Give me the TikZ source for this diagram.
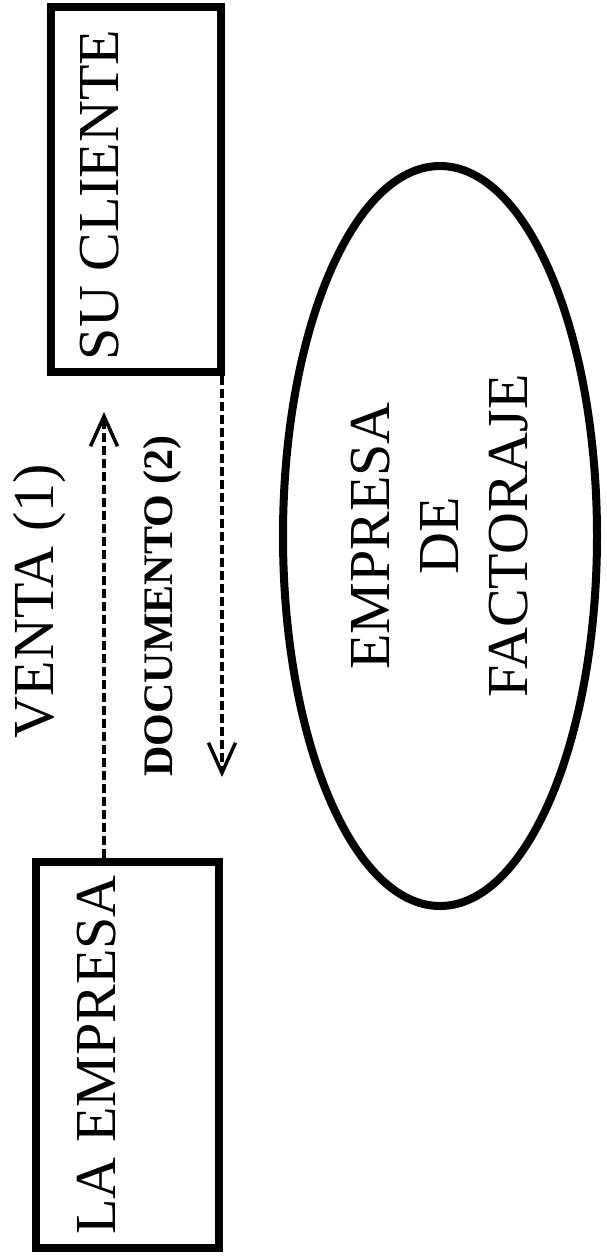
\documentclass[tikz,border=0pt]{standalone}
\usepackage{fontspec}
\setmainfont{Liberation Serif}
\usetikzlibrary{arrows.meta,shapes.geometric}
\begin{document}
\begin{tikzpicture}[x=1pt,y=-1pt,
  box/.style={draw, rectangle, line width=8pt, inner sep=0pt},
  lbl/.style={rotate=90, anchor=base, inner sep=0pt, font=\fontsize{58}{69}\selectfont},
  flow/.style={line width=3.5pt, dash pattern=on 9pt off 4pt,
    -{Straight Barb[length=30pt,width=27pt]}}
]
\useasboundingbox (0,0) rectangle (607,1259);

% the two parties
\node[box, minimum width=170pt, minimum height=365pt] (cli) at (136,189.5) {};
\node[box, minimum width=183pt, minimum height=386pt] (emp) at (127.5,1055) {};
\node[lbl] (clit) at (118,195) {SU CLIENTE};
\node[lbl] (empt) at (115,1055) {LA EMPRESA};

% factoring company
\node[draw, ellipse, line width=8pt, rotate=90, align=center, inner sep=0pt,
      minimum width=740pt, minimum height=314pt,
      font=\fontsize{58}{69}\selectfont] (fact) at (440,536) {EMPRESA\\DE\\FACTORAJE};

% flows between the parties
\coordinate (vtip) at (104,412);
\coordinate (dtip) at (222,777);
\draw[flow] (emp.north -| vtip) -- (vtip);
\draw[flow] (cli.south east -| dtip) -- (dtip);
\node[lbl] (vent) at (53,601) {VENTA (1)};
\node[lbl, font=\bfseries\fontsize{42}{48}\selectfont] (docu) at (172,606) {DOCUMENTO (2)};
\end{tikzpicture}
\end{document}
